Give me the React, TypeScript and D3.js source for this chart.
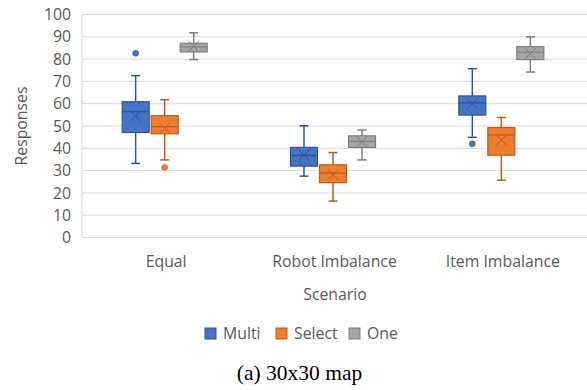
import React from "react";
import * as d3 from "d3";

// Scenarios on the x axis and the three response strategies
const categories = ["Equal", "Robot Imbalance", "Item Imbalance"];
const seriesNames = ["Multi", "Select", "One"];

// Box statistics per series, one entry per scenario
const multiMin = [33.2, 27.5, 44.9];
const multiQ1 = [47.1, 32.0, 54.9];
const multiMedian = [56.4, 36.8, 60.4];
const multiQ3 = [60.9, 40.4, 63.5];
const multiMax = [72.6, 50.1, 75.7];
const multiMean = [54.6, 37.0, 60.0];
const multiOutliers = [[82.6], [], [42.0]];

const selectMin = [34.8, 16.3, 25.7];
const selectQ1 = [46.5, 24.6, 36.9];
const selectMedian = [49.7, 28.9, 46.0];
const selectQ3 = [54.6, 32.6, 49.3];
const selectMax = [61.8, 38.1, 53.8];
const selectMean = [49.0, 28.2, 43.8];
const selectOutliers = [[31.4], [], []];

const oneMin = [79.8, 34.8, 74.2];
const oneQ1 = [83.2, 40.4, 79.8];
const oneMedian = [85.5, 43.1, 83.1];
const oneQ3 = [87.1, 45.6, 85.6];
const oneMax = [91.8, 48.2, 90.0];
const oneMean = [85.8, 43.0, 82.5];
const oneOutliers = [[], [], []];

const yTicks = [0, 10, 20, 30, 40, 50, 60, 70, 80, 90, 100];

const fills = ["#4472C4", "#ED7D31", "#A5A5A5"];
const strokes = ["#2F5597", "#C55A11", "#7F7F7F"];

type BoxStat = {
  min: number; q1: number; median: number; q3: number; max: number; mean: number; outliers: number[];
};

function buildStats(
  min: number[], q1: number[], med: number[], q3: number[], max: number[], mean: number[], out: number[][]
): BoxStat[] {
  return categories.map((_, i) => ({
    min: min[i], q1: q1[i], median: med[i], q3: q3[i], max: max[i], mean: mean[i], outliers: out[i],
  }));
}

const stats: BoxStat[][] = [
  buildStats(multiMin, multiQ1, multiMedian, multiQ3, multiMax, multiMean, multiOutliers),
  buildStats(selectMin, selectQ1, selectMedian, selectQ3, selectMax, selectMean, selectOutliers),
  buildStats(oneMin, oneQ1, oneMedian, oneQ3, oneMax, oneMean, oneOutliers),
];

const W = 587;
const H = 390;
const plotLeft = 82;
const plotRight = 587;
const plotTop = 14.5;
const plotBottom = 237.5;

const font = "'Open Sans', 'Noto Sans', sans-serif";
const fontSize = 15.8;
const textColor = "#595959";
const gridColor = "#D9D9D9";

export default function App() {
  const y = d3.scaleLinear().domain([0, 100]).range([plotBottom, plotTop]);
  const x = d3.scaleBand().domain(categories).range([plotLeft, plotRight]);
  const xSub = d3.scaleBand().domain(seriesNames).range([-44, 41]).paddingInner(0.07);
  const bw = xSub.bandwidth();
  const capW = 9;
  const xMark = 5.5;

  return (
    <svg
      width={W}
      height={H}
      style={{ position: "absolute", left: 0, top: 0, background: "#fff" }}
    >
      {/* gridlines and tick labels */}
      {yTicks.map((t) => (
        <g key={t}>
          <line x1={plotLeft} x2={plotRight} y1={y(t)} y2={y(t)} stroke={gridColor} strokeWidth={1} />
          <text
            x={71}
            y={y(t)}
            dy="0.36em"
            textAnchor="end"
            fontFamily={font}
            fontSize={fontSize}
            fill={textColor}
          >
            {t}
          </text>
        </g>
      ))}
      <line x1={plotLeft} x2={plotLeft} y1={plotTop} y2={plotBottom} stroke={gridColor} strokeWidth={1} />

      {/* category labels */}
      {categories.map((c) => (
        <text
          key={c}
          x={(x(c) ?? 0) + x.bandwidth() / 2}
          y={267}
          textAnchor="middle"
          fontFamily={font}
          fontSize={fontSize}
          fill={textColor}
        >
          {c}
        </text>
      ))}

      {/* boxes */}
      {seriesNames.map((s, si) => (
        <g key={s}>
          {categories.map((c, ci) => {
            const st = stats[si][ci];
            const cx = (x(c) ?? 0) + x.bandwidth() / 2 + (xSub(s) ?? 0) + bw / 2;
            const left = cx - bw / 2;
            const stroke = strokes[si];
            return (
              <g key={c}>
                <line x1={cx} x2={cx} y1={y(st.max)} y2={y(st.q3)} stroke={stroke} strokeWidth={1.5} />
                <line x1={cx} x2={cx} y1={y(st.q1)} y2={y(st.min)} stroke={stroke} strokeWidth={1.5} />
                <line x1={cx - capW / 2} x2={cx + capW / 2} y1={y(st.max)} y2={y(st.max)} stroke={stroke} strokeWidth={1.5} />
                <line x1={cx - capW / 2} x2={cx + capW / 2} y1={y(st.min)} y2={y(st.min)} stroke={stroke} strokeWidth={1.5} />
                <rect
                  x={left}
                  y={y(st.q3)}
                  width={bw}
                  height={y(st.q1) - y(st.q3)}
                  fill={fills[si]}
                  stroke={stroke}
                  strokeWidth={1.2}
                />
                <line x1={left} x2={left + bw} y1={y(st.median)} y2={y(st.median)} stroke={stroke} strokeWidth={1.2} />
                <path
                  d={`M${cx - xMark},${y(st.mean) - xMark}L${cx + xMark},${y(st.mean) + xMark}M${cx - xMark},${y(st.mean) + xMark}L${cx + xMark},${y(st.mean) - xMark}`}
                  stroke={stroke}
                  strokeWidth={1}
                  fill="none"
                />
                {st.outliers.map((o, oi) => (
                  <circle key={oi} cx={cx} cy={y(o)} r={3} fill={fills[si]} stroke={stroke} strokeWidth={0.5} />
                ))}
              </g>
            );
          })}
        </g>
      ))}

      {/* axis titles */}
      <text
        transform={`translate(27,${(plotTop + plotBottom) / 2}) rotate(-90)`}
        textAnchor="middle"
        fontFamily={font}
        fontSize={fontSize}
        fill={textColor}
      >
        Responses
      </text>
      <text x={335} y={300} textAnchor="middle" fontFamily={font} fontSize={fontSize} fill={textColor}>
        Scenario
      </text>

      {/* legend */}
      {seriesNames.map((s, i) => {
        const lx = [205, 276, 349][i];
        return (
          <g key={s}>
            <rect x={lx} y={328} width={11} height={11} fill={fills[i]} stroke={strokes[i]} strokeWidth={1} />
            <text x={lx + 18} y={339} fontFamily={font} fontSize={fontSize} fill={textColor}>
              {s}
            </text>
          </g>
        );
      })}

      {/* caption */}
      <text
        x={299.5}
        y={380}
        textAnchor="middle"
        fontFamily="'Liberation Serif', 'Times New Roman', serif"
        fontSize={21.5}
        fill="#000"
      >
        (a) 30x30 map
      </text>
    </svg>
  );
}
